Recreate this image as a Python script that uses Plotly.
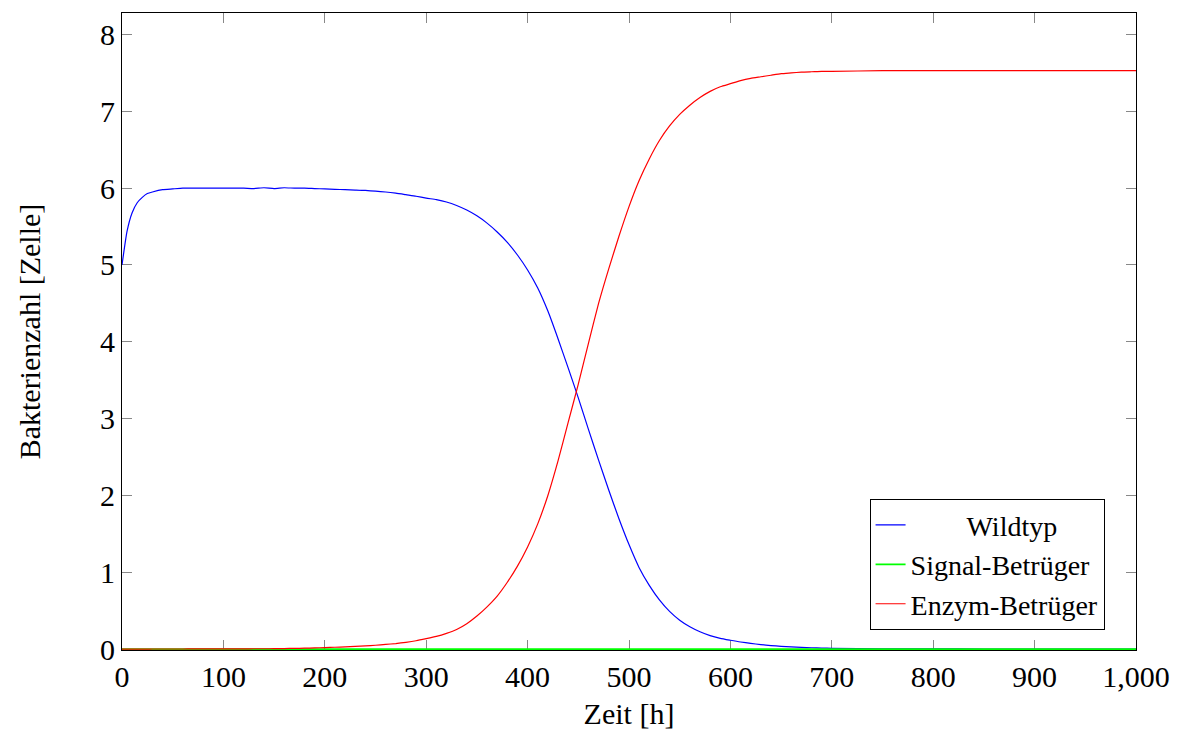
import plotly.graph_objects as go

# Simulation time points [h]
zeit = [0, 5, 10, 15, 20, 25, 30, 40, 50, 60, 70, 80, 90, 100, 110, 120, 130, 140,
        150, 160, 170, 180, 190, 200, 210, 220, 230, 240, 250, 260, 270, 280, 290,
        300, 310, 320, 330, 340, 350, 360, 370, 380, 390, 400, 410, 420, 430, 440,
        450, 460, 470, 480, 490, 500, 510, 520, 530, 540, 550, 560, 570, 580, 590,
        600, 610, 620, 630, 640, 650, 660, 670, 680, 690, 700, 750, 800, 850, 900,
        950, 1000]

wildtyp = [5.00, 5.44, 5.68, 5.81, 5.88, 5.93, 5.95, 5.98, 5.99, 6.00, 6.00, 6.00,
           6.00, 6.00, 6.00, 6.00, 5.995, 6.005, 5.995, 6.005, 6.00, 6.00, 5.995,
           5.99, 5.985, 5.98, 5.975, 5.97, 5.96, 5.95, 5.935, 5.915, 5.895, 5.87,
           5.85, 5.82, 5.775, 5.715, 5.64, 5.545, 5.43, 5.295, 5.13, 4.935, 4.70,
           4.40, 4.04, 3.66, 3.27, 2.86, 2.46, 2.07, 1.70, 1.36, 1.06, 0.83, 0.64,
           0.49, 0.375, 0.29, 0.225, 0.175, 0.14, 0.115, 0.092, 0.074, 0.059, 0.046,
           0.036, 0.028, 0.022, 0.017, 0.013, 0.010, 0.004, 0.002, 0.001, 0.0, 0.0,
           0.0]

signal_betrueger = [0.0] * len(zeit)

enzym_betrueger = [0.0, 0.0, 0.0, 0.0, 0.0, 0.0, 0.001, 0.001, 0.001, 0.001, 0.002,
                   0.002, 0.002, 0.003, 0.003, 0.003, 0.004, 0.004, 0.005, 0.007,
                   0.009, 0.012, 0.015, 0.02, 0.024, 0.029, 0.035, 0.042, 0.05, 0.06,
                   0.072, 0.088, 0.108, 0.135, 0.165, 0.205, 0.255, 0.33, 0.43, 0.55,
                   0.69, 0.87, 1.08, 1.33, 1.63, 2.00, 2.45, 2.95, 3.45, 3.98, 4.50,
                   4.95, 5.37, 5.76, 6.10, 6.38, 6.62, 6.81, 6.96, 7.08, 7.18, 7.26,
                   7.32, 7.36, 7.40, 7.43, 7.45, 7.47, 7.49, 7.50, 7.51, 7.515, 7.52,
                   7.52, 7.53, 7.53, 7.53, 7.53, 7.53, 7.53]

x_ticks = [0, 100, 200, 300, 400, 500, 600, 700, 800, 900, 1000]
y_ticks = [0, 1, 2, 3, 4, 5, 6, 7, 8]

FONT = "Liberation Serif"
SIZE = 30
NBSP = "\u00a0"

fig = go.Figure()
fig.add_trace(go.Scatter(x=zeit, y=wildtyp, mode="lines",
                         name=NBSP * 8 + "Wildtyp",
                         line=dict(color="#0000ff", width=1.2, shape="spline", smoothing=0.5),
                         cliponaxis=False))
fig.add_trace(go.Scatter(x=zeit, y=signal_betrueger, mode="lines",
                         name="Signal-Betrüger",
                         line=dict(color="#00ff00", width=1.6), cliponaxis=False))
fig.add_trace(go.Scatter(x=zeit, y=enzym_betrueger, mode="lines",
                         name="Enzym-Betrüger",
                         line=dict(color="#ff0000", width=1.2, shape="spline", smoothing=0.5),
                         cliponaxis=False))

axis_common = dict(
    showgrid=False, zeroline=False, layer="below traces",
    showline=True, linecolor="black", linewidth=1, mirror="ticks",
    ticks="inside", ticklen=10, tickwidth=1, tickcolor="#888888",
    tickfont=dict(family=FONT, size=SIZE, color="black"),
)

fig.update_xaxes(range=[0, 1000], tickvals=x_ticks, tickformat=",d",
                 title=dict(text="Zeit [h]", font=dict(family=FONT, size=SIZE, color="black"),
                            standoff=10),
                 **axis_common)
fig.update_yaxes(range=[-0.012, 8.28], tickvals=y_ticks,
                 title=dict(text="Bakterienzahl [Zelle]",
                            font=dict(family=FONT, size=SIZE, color="black"), standoff=50),
                 **axis_common)

fig.update_layout(
    width=1182, height=736,
    margin=dict(l=122, r=46, t=13, b=86),
    paper_bgcolor="white", plot_bgcolor="white",
    separators=".,",
    font=dict(family=FONT, size=SIZE, color="black"),
    legend=dict(x=0.969, y=0.031, xanchor="right", yanchor="bottom",
                bordercolor="black", borderwidth=1, bgcolor="white",
                font=dict(family=FONT, size=28, color="black"),
                tracegroupgap=0, itemwidth=30),
)

fig.write_html("out.html")
